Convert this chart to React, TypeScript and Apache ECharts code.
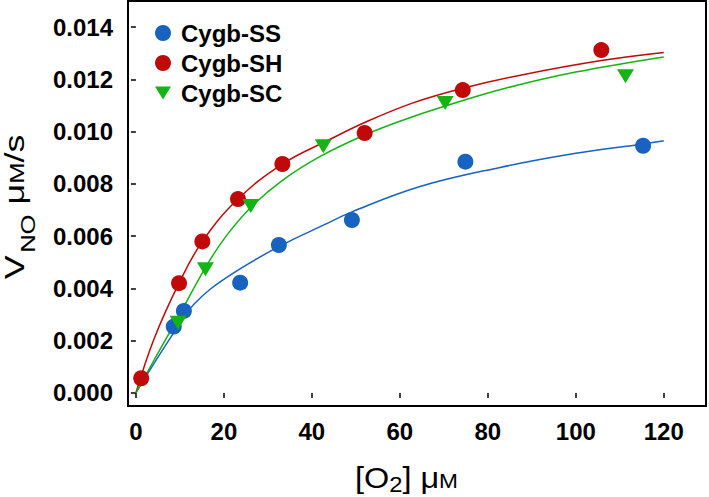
import React, { useEffect, useRef } from 'react';
import * as echarts from 'echarts';

// Measured points [O2] (µM), V_NO (µM/s)
const ssPoints: number[][] = [
  [8.6, 0.00254], [10.9, 0.00314], [23.7, 0.00422], [32.5, 0.00566],
  [49.1, 0.00662], [74.9, 0.00885], [115.3, 0.00946],
];
const shPoints: number[][] = [
  [1.2, 0.00056], [9.8, 0.0042], [15.1, 0.0058], [23.2, 0.00742],
  [33.3, 0.00876], [52, 0.00995], [74.3, 0.01159], [105.8, 0.01312],
];
const scPoints: number[][] = [
  [9.6, 0.00269], [15.8, 0.00473], [26.1, 0.00715], [42.6, 0.00944],
  [70.3, 0.0111], [111.3, 0.01212],
];

// Fitted curves
const ssFit: number[][] = [
  [0, 0], [4.2, 0.00115], [8.6, 0.0023], [13.4, 0.00343], [20.9, 0.00445],
  [32.5, 0.0056], [43, 0.00645], [49.1, 0.00693], [64.6, 0.0079],
  [82.8, 0.00863], [100, 0.00917], [115.3, 0.00953], [120, 0.00965],
];
const shFit: number[][] = [
  [0, 0], [4.2, 0.0021], [9.8, 0.0042], [15.1, 0.0058], [23.2, 0.00742],
  [33.3, 0.00876], [43.7, 0.00967], [52, 0.01035], [63, 0.0111],
  [74.3, 0.01166], [87.4, 0.01216], [105.8, 0.01272], [120, 0.01303],
];
const scFit: number[][] = [
  [0, 0], [4.2, 0.00128], [9.6, 0.0029], [15.8, 0.0048], [20.5, 0.006],
  [26.1, 0.0071], [33, 0.0081], [41.9, 0.00905], [51.7, 0.00985],
  [60, 0.0104], [70.3, 0.01098], [84, 0.01166], [100, 0.01228], [120, 0.01286],
];

const xTicks = [0, 20, 40, 60, 80, 100, 120];
const yTicks = [0, 0.002, 0.004, 0.006, 0.008, 0.01, 0.012, 0.014];
const seriesNames = ['Cygb-SS', 'Cygb-SH', 'Cygb-SC'];

const BLUE = '#1862C0';
const RED = '#C00A0A';
const GREEN = '#14B414';
const FONT = 'Liberation Sans, Arial, Helvetica, sans-serif';
const TRI = 'path://M0,0 L16,0 L8,13 Z';

type Part = { text: string; size: number; base: number };

function measure(text: string, size: number): number {
  const c = document.createElement('canvas').getContext('2d');
  if (!c) return text.length * size * 0.55;
  c.font = `${size}px "Liberation Sans", Arial, sans-serif`;
  return c.measureText(text).width;
}

// Lays out parts along a line; base = baseline offset (positive = down, local)
function layoutParts(parts: Part[], gaps: number[]) {
  const widths = parts.map((p) => measure(p.text, p.size));
  const total = widths.reduce((a, b) => a + b, 0) + gaps.reduce((a, b) => a + b, 0);
  let x = -total / 2;
  return parts.map((p, i) => {
    const el = {
      type: 'text',
      x,
      y: p.base - 0.35 * p.size,
      style: {
        text: p.text,
        fontSize: p.size,
        fontFamily: FONT,
        fill: '#000',
        align: 'left',
        verticalAlign: 'middle',
      },
    };
    x += widths[i] + (gaps[i] || 0);
    return el;
  });
}

export default function App() {
  const ref = useRef<HTMLDivElement>(null);
  useEffect(() => {
    if (!ref.current) return;
    const chart = echarts.init(ref.current, null, { renderer: 'svg' });
    const fitLine = (name: string, data: number[][], color: string) => ({
      name,
      type: 'line',
      data,
      smooth: 0.4,
      showSymbol: false,
      symbol: 'none',
      silent: true,
      lineStyle: { color, width: 1.5 },
      z: 2,
    });

    const xTitleParts: Part[] = [
      { text: '[O', size: 30, base: 0 },
      { text: '2', size: 22, base: 4 },
      { text: '] μ', size: 30, base: 0 },
      { text: 'M', size: 21, base: 0 },
    ];
    const yTitleParts: Part[] = [
      { text: 'V', size: 28, base: 0 },
      { text: 'NO', size: 20, base: 11 },
      { text: ' μ', size: 28, base: 0 },
      { text: 'M', size: 20, base: 0 },
      { text: '/s', size: 28, base: 0 },
    ];

    chart.setOption({
      animation: false,
      textStyle: { fontFamily: FONT },
      grid: {
        left: 128, right: 3, top: 1, bottom: 91,
        show: true, borderColor: '#000', borderWidth: 2, backgroundColor: 'transparent',
      },
      legend: {
        data: seriesNames,
        orient: 'vertical',
        left: 150,
        top: 16,
        itemWidth: 16,
        itemHeight: 16,
        itemGap: 6,
        textStyle: {
          fontSize: 24, lineHeight: 24, fontWeight: 'bold', color: '#000',
          fontFamily: FONT, padding: [0, 0, 0, 5],
        },
      },
      xAxis: {
        type: 'value',
        min: -1.8,
        max: 129.6,
        splitLine: { show: false },
        axisLine: { show: false },
        axisTick: { show: true, customValues: xTicks, length: 5, lineStyle: { color: '#000', width: 1.5 } },
        axisLabel: {
          customValues: xTicks,
          margin: 13,
          fontSize: 24,
          fontWeight: 'bold',
          color: '#000',
          fontFamily: FONT,
        },
      },
      yAxis: {
        type: 'value',
        min: -0.0005,
        max: 0.015,
        splitLine: { show: false },
        axisLine: { show: false },
        axisTick: { show: true, customValues: yTicks, length: 5, lineStyle: { color: '#000', width: 1.5 } },
        axisLabel: {
          customValues: yTicks,
          margin: 15,
          fontSize: 24,
          fontWeight: 'bold',
          color: '#000',
          fontFamily: FONT,
          formatter: (v: number) => v.toFixed(3),
        },
      },
      graphic: [
        {
          type: 'group',
          x: 406.5,
          y: 488,
          scaleX: 1.08,
          children: layoutParts(xTitleParts, [0, 0, 0, 0]),
        },
        {
          type: 'group',
          x: 24,
          y: 207,
          rotation: Math.PI / 2,
          scaleX: 1.28,
          children: layoutParts(yTitleParts, [2, 0, 0, 0, 0]),
        },
      ],
      series: [
        fitLine('fit-SS', ssFit, BLUE),
        fitLine('fit-SH', shFit, RED),
        fitLine('fit-SC', scFit, GREEN),
        {
          name: 'Cygb-SS', type: 'scatter', data: ssPoints, symbol: 'circle', symbolSize: 16,
          itemStyle: { color: BLUE, opacity: 1 }, z: 3,
        },
        {
          name: 'Cygb-SH', type: 'scatter', data: shPoints, symbol: 'circle', symbolSize: 16,
          itemStyle: { color: RED, opacity: 1 }, z: 4,
        },
        {
          name: 'Cygb-SC', type: 'scatter', data: scPoints, symbol: TRI, symbolSize: [17, 14],
          itemStyle: { color: GREEN, opacity: 1 }, z: 5,
        },
      ],
    });
    return () => chart.dispose();
  }, []);
  return <div ref={ref} style={{ width: 709, height: 497, position: 'absolute', left: 0, top: 0 }} />;
}
